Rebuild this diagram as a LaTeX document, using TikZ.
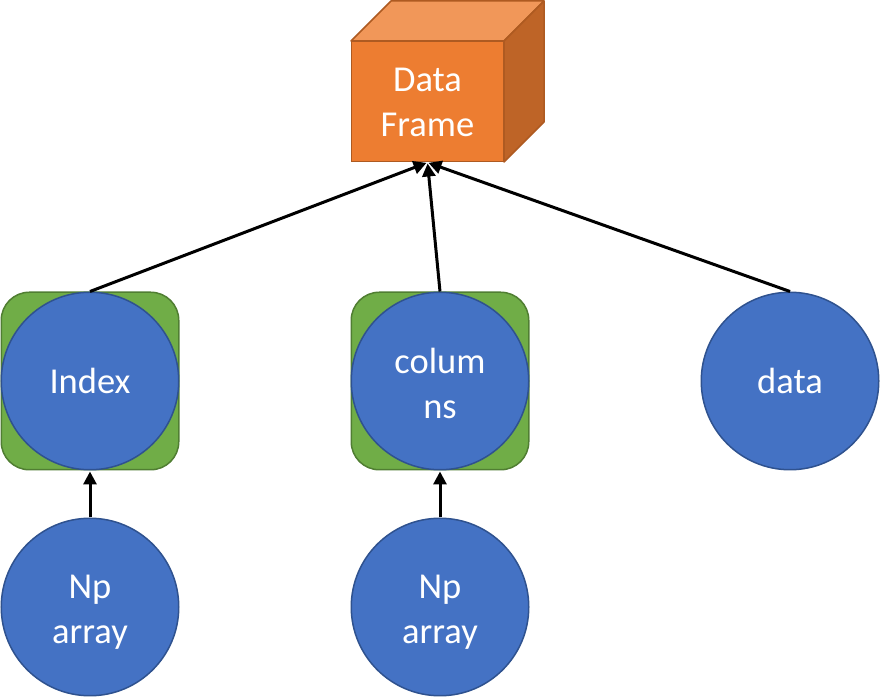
\documentclass[tikz,border=0pt]{standalone}
\usepackage{fontspec}
\setmainfont{Carlito}
\usetikzlibrary{arrows.meta,positioning}
\definecolor{pointblue}{HTML}{4472C4}
\definecolor{pointblueline}{HTML}{2F528F}
\definecolor{pointgreen}{HTML}{70AD47}
\definecolor{pointgreenline}{HTML}{507E32}
\definecolor{cubefront}{HTML}{ED7D31}
\definecolor{cubetop}{HTML}{F19759}
\definecolor{cubeside}{HTML}{BE6427}
\definecolor{cubeline}{HTML}{AE5A21}
\newcommand{\topfill}[1]{\rule{0pt}{#1}}
\tikzset{
  label text/.style={inner sep=0pt,align=center,text=white,font=\fontsize{36.5}{45}\selectfont},
  ball/.style={circle,draw=pointblueline,fill=pointblue,line width=1.5pt,minimum size=177.5pt,label text},
  holder/.style={rectangle,rounded corners=28pt,draw=pointgreenline,fill=pointgreen,line width=1.5pt,minimum size=177.5pt,inner sep=0pt},
  face/.style={draw=cubeline,line width=1.5pt,line join=round},
  link/.style={-{Triangle[length=13pt,width=13pt]},line width=3pt,shorten >=1pt}
}
\begin{document}
\begin{tikzpicture}[x=1pt,y=1pt]
    \useasboundingbox (0,0) rectangle (880,698);
    % cube
    \fill[face,fill=cubetop] (351,657) -- (391,697) -- (544,697) -- (504,657) -- cycle;
    \fill[face,fill=cubeside] (504,536) -- (544,576) -- (544,697) -- (504,657) -- cycle;
    \node[rectangle,draw=cubeline,fill=cubefront,line width=1.5pt,minimum width=152.5pt,minimum height=120.5pt,label text] (frame) at (427.5,596.5) {\topfill{25pt}Data\\Frame};
    % green boxes behind the two circles
    \node[holder] (indexbox) at (90,317) {};
    \node[holder] (columnsbox) at (440,317) {};
    \node[ball] (index) at (90,317) {Index};
    \node[ball] (columns) at (440,317) {\topfill{30pt}colum\\ns};
    \node[ball] (data) at (790,317) {data};
    \node[ball] (nparrayA) at (90,91) {\topfill{33pt}Np\\array};
    \node[ball] (nparrayB) at (440,91) {\topfill{33pt}Np\\array};
    \draw[link] (index.north) -- (frame.south);
    \draw[link] (columns.north) -- (frame.south);
    \draw[link] (data.north) -- (frame.south);
    \draw[link] (nparrayA.north) -- (index.south);
    \draw[link] (nparrayB.north) -- (columns.south);
  \end{tikzpicture}
\end{document}
